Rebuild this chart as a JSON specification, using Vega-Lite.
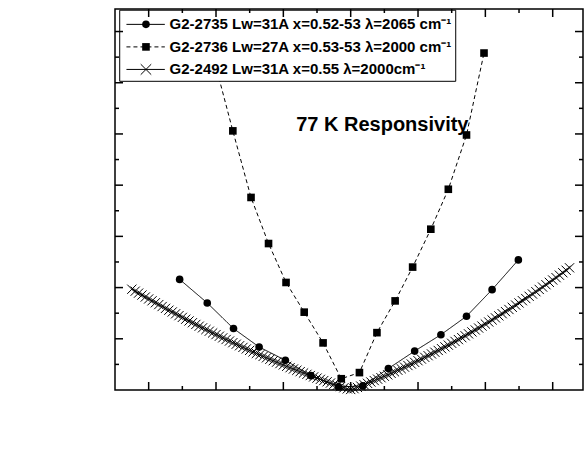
{
  "$schema": "https://vega.github.io/schema/vega-lite/v6.json",
  "width": 468,
  "height": 381,
  "autosize": "none",
  "padding": {"left": 115, "top": 9, "right": 4, "bottom": 69},
  "background": "white",
  "config": {"view": {"stroke": "black", "strokeWidth": 1.5}, "font": "Liberation Sans"},
  "datasets": {
    "pts": [
      {"s": "A", "V": -25.4, "R": 0.0108}, {"s": "A", "V": -21.3, "R": 0.0085}, {"s": "A", "V": -17.4, "R": 0.0060},
      {"s": "A", "V": -13.6, "R": 0.0042}, {"s": "A", "V": -9.7, "R": 0.0029}, {"s": "A", "V": -5.9, "R": 0.0014},
      {"s": "A", "V": -1.8, "R": 0.0003}, {"s": "A", "V": 1.8, "R": 0.0004}, {"s": "A", "V": 5.6, "R": 0.0021},
      {"s": "A", "V": 9.5, "R": 0.0038}, {"s": "A", "V": 13.4, "R": 0.0054}, {"s": "A", "V": 17.2, "R": 0.0072},
      {"s": "A", "V": 21.0, "R": 0.0098}, {"s": "A", "V": 24.9, "R": 0.0127},
      {"s": "B", "V": -20.1, "R": 0.0318}, {"s": "B", "V": -17.5, "R": 0.0253}, {"s": "B", "V": -14.8, "R": 0.0188},
      {"s": "B", "V": -12.2, "R": 0.0143}, {"s": "B", "V": -9.6, "R": 0.0105}, {"s": "B", "V": -6.9, "R": 0.0076},
      {"s": "B", "V": -4.1, "R": 0.0046}, {"s": "B", "V": -1.4, "R": 0.0011}, {"s": "B", "V": 1.3, "R": 0.0017},
      {"s": "B", "V": 3.9, "R": 0.0056}, {"s": "B", "V": 6.6, "R": 0.0087}, {"s": "B", "V": 9.2, "R": 0.0120},
      {"s": "B", "V": 11.9, "R": 0.0157}, {"s": "B", "V": 14.5, "R": 0.0196}, {"s": "B", "V": 17.2, "R": 0.0249},
      {"s": "B", "V": 19.8, "R": 0.0329},
      {"s": "C", "V": -32.5, "R": 0.00984}, {"s": "C", "V": -32, "R": 0.00965}, {"s": "C", "V": -31.5, "R": 0.00946},
      {"s": "C", "V": -31, "R": 0.00927}, {"s": "C", "V": -30.5, "R": 0.00908}, {"s": "C", "V": -30, "R": 0.00889},
      {"s": "C", "V": -29.5, "R": 0.00871}, {"s": "C", "V": -29, "R": 0.00852}, {"s": "C", "V": -28.5, "R": 0.00834},
      {"s": "C", "V": -28, "R": 0.00815}, {"s": "C", "V": -27.5, "R": 0.00797}, {"s": "C", "V": -27, "R": 0.00779},
      {"s": "C", "V": -26.5, "R": 0.00762}, {"s": "C", "V": -26, "R": 0.00744}, {"s": "C", "V": -25.5, "R": 0.00726},
      {"s": "C", "V": -25, "R": 0.00709}, {"s": "C", "V": -24.5, "R": 0.00691}, {"s": "C", "V": -24, "R": 0.00674},
      {"s": "C", "V": -23.5, "R": 0.00657}, {"s": "C", "V": -23, "R": 0.00640}, {"s": "C", "V": -22.5, "R": 0.00623},
      {"s": "C", "V": -22, "R": 0.00607}, {"s": "C", "V": -21.5, "R": 0.00590}, {"s": "C", "V": -21, "R": 0.00574},
      {"s": "C", "V": -20.5, "R": 0.00557}, {"s": "C", "V": -20, "R": 0.00541}, {"s": "C", "V": -19.5, "R": 0.00525},
      {"s": "C", "V": -19, "R": 0.00509}, {"s": "C", "V": -18.5, "R": 0.00493}, {"s": "C", "V": -18, "R": 0.00478},
      {"s": "C", "V": -17.5, "R": 0.00462}, {"s": "C", "V": -17, "R": 0.00447}, {"s": "C", "V": -16.5, "R": 0.00432},
      {"s": "C", "V": -16, "R": 0.00416}, {"s": "C", "V": -15.5, "R": 0.00401}, {"s": "C", "V": -15, "R": 0.00387},
      {"s": "C", "V": -14.5, "R": 0.00372}, {"s": "C", "V": -14, "R": 0.00357}, {"s": "C", "V": -13.5, "R": 0.00343},
      {"s": "C", "V": -13, "R": 0.00328}, {"s": "C", "V": -12.5, "R": 0.00314}, {"s": "C", "V": -12, "R": 0.00300},
      {"s": "C", "V": -11.5, "R": 0.00286}, {"s": "C", "V": -11, "R": 0.00272}, {"s": "C", "V": -10.5, "R": 0.00258},
      {"s": "C", "V": -10, "R": 0.00245}, {"s": "C", "V": -9.5, "R": 0.00231}, {"s": "C", "V": -9, "R": 0.00218},
      {"s": "C", "V": -8.5, "R": 0.00205}, {"s": "C", "V": -8, "R": 0.00192}, {"s": "C", "V": -7.5, "R": 0.00179},
      {"s": "C", "V": -7, "R": 0.00166}, {"s": "C", "V": -6.5, "R": 0.00153}, {"s": "C", "V": -6, "R": 0.00141},
      {"s": "C", "V": -5.5, "R": 0.00128}, {"s": "C", "V": -5, "R": 0.00116}, {"s": "C", "V": -4.5, "R": 0.00104},
      {"s": "C", "V": -4, "R": 0.00092}, {"s": "C", "V": -3.5, "R": 0.00080}, {"s": "C", "V": -3, "R": 0.00068},
      {"s": "C", "V": -2.5, "R": 0.00056}, {"s": "C", "V": -2, "R": 0.00045}, {"s": "C", "V": -1.5, "R": 0.00033},
      {"s": "C", "V": -1, "R": 0.00022}, {"s": "C", "V": -0.5, "R": 0.00011}, {"s": "C", "V": 0, "R": 0.00005},
      {"s": "C", "V": 0.5, "R": 0.00013}, {"s": "C", "V": 1, "R": 0.00025}, {"s": "C", "V": 1.5, "R": 0.00038},
      {"s": "C", "V": 2, "R": 0.00051}, {"s": "C", "V": 2.5, "R": 0.00065}, {"s": "C", "V": 3, "R": 0.00078},
      {"s": "C", "V": 3.5, "R": 0.00092}, {"s": "C", "V": 4, "R": 0.00106}, {"s": "C", "V": 4.5, "R": 0.00120},
      {"s": "C", "V": 5, "R": 0.00134}, {"s": "C", "V": 5.5, "R": 0.00148}, {"s": "C", "V": 6, "R": 0.00163},
      {"s": "C", "V": 6.5, "R": 0.00178}, {"s": "C", "V": 7, "R": 0.00193}, {"s": "C", "V": 7.5, "R": 0.00208},
      {"s": "C", "V": 8, "R": 0.00223}, {"s": "C", "V": 8.5, "R": 0.00239}, {"s": "C", "V": 9, "R": 0.00254},
      {"s": "C", "V": 9.5, "R": 0.00270}, {"s": "C", "V": 10, "R": 0.00286}, {"s": "C", "V": 10.5, "R": 0.00302},
      {"s": "C", "V": 11, "R": 0.00319}, {"s": "C", "V": 11.5, "R": 0.00335}, {"s": "C", "V": 12, "R": 0.00352},
      {"s": "C", "V": 12.5, "R": 0.00369}, {"s": "C", "V": 13, "R": 0.00386}, {"s": "C", "V": 13.5, "R": 0.00403},
      {"s": "C", "V": 14, "R": 0.00421}, {"s": "C", "V": 14.5, "R": 0.00438}, {"s": "C", "V": 15, "R": 0.00456},
      {"s": "C", "V": 15.5, "R": 0.00474}, {"s": "C", "V": 16, "R": 0.00492}, {"s": "C", "V": 16.5, "R": 0.00511},
      {"s": "C", "V": 17, "R": 0.00529}, {"s": "C", "V": 17.5, "R": 0.00548}, {"s": "C", "V": 18, "R": 0.00567},
      {"s": "C", "V": 18.5, "R": 0.00586}, {"s": "C", "V": 19, "R": 0.00605}, {"s": "C", "V": 19.5, "R": 0.00624},
      {"s": "C", "V": 20, "R": 0.00644}, {"s": "C", "V": 20.5, "R": 0.00664}, {"s": "C", "V": 21, "R": 0.00684},
      {"s": "C", "V": 21.5, "R": 0.00704}, {"s": "C", "V": 22, "R": 0.00724}, {"s": "C", "V": 22.5, "R": 0.00745},
      {"s": "C", "V": 23, "R": 0.00765}, {"s": "C", "V": 23.5, "R": 0.00786}, {"s": "C", "V": 24, "R": 0.00807},
      {"s": "C", "V": 24.5, "R": 0.00829}, {"s": "C", "V": 25, "R": 0.00850}, {"s": "C", "V": 25.5, "R": 0.00872},
      {"s": "C", "V": 26, "R": 0.00893}, {"s": "C", "V": 26.5, "R": 0.00915}, {"s": "C", "V": 27, "R": 0.00937},
      {"s": "C", "V": 27.5, "R": 0.00960}, {"s": "C", "V": 28, "R": 0.00982}, {"s": "C", "V": 28.5, "R": 0.01005},
      {"s": "C", "V": 29, "R": 0.01028}, {"s": "C", "V": 29.5, "R": 0.01051}, {"s": "C", "V": 30, "R": 0.01074},
      {"s": "C", "V": 30.5, "R": 0.01097}, {"s": "C", "V": 31, "R": 0.01121}, {"s": "C", "V": 31.5, "R": 0.01145},
      {"s": "C", "V": 32, "R": 0.01169}, {"s": "C", "V": 32.5, "R": 0.01193}
    ],
    "note": [{"V": 4.7, "R": 0.0259, "t": "77 K Responsivity"}],
    "one": [{"k": 1}],
    "xt": [
      {"v": -30, "m": 1}, {"v": -25, "m": 0}, {"v": -20, "m": 1}, {"v": -15, "m": 0}, {"v": -10, "m": 1},
      {"v": -5, "m": 0}, {"v": 0, "m": 1}, {"v": 5, "m": 0}, {"v": 10, "m": 1}, {"v": 15, "m": 0},
      {"v": 20, "m": 1}, {"v": 25, "m": 0}, {"v": 30, "m": 1}
    ],
    "yt": [
      {"v": 0.0025, "m": 0}, {"v": 0.005, "m": 1}, {"v": 0.0075, "m": 0}, {"v": 0.01, "m": 1}, {"v": 0.0125, "m": 0},
      {"v": 0.015, "m": 1}, {"v": 0.0175, "m": 0}, {"v": 0.02, "m": 1}, {"v": 0.0225, "m": 0}, {"v": 0.025, "m": 1},
      {"v": 0.0275, "m": 0}, {"v": 0.03, "m": 1}, {"v": 0.0325, "m": 0}, {"v": 0.035, "m": 1}
    ]
  },
  "layer": [
    {
      "data": {"name": "pts"},
      "mark": {"type": "line", "color": "black", "strokeWidth": 1},
      "encoding": {
        "x": {
          "field": "V", "type": "quantitative",
          "scale": {"domain": [-35, 34.5], "nice": false, "zero": false},
          "axis": {
            "orient": "bottom", "values": [-30, -20, -10, 0, 10, 20, 30],
            "ticks": false, "tickSize": 0,
            "labelExpr": "toString(datum.value)",
            "labelFont": "Liberation Sans", "labelFontSize": 19, "labelFontWeight": "bold", "labelColor": "black",
            "domainColor": "black", "domainWidth": 1.5,
            "labelPadding": 14, "labelOverlap": false, "labelFlush": false, "grid": false,
            "title": "Voltage (V)", "titleFont": "Liberation Sans", "titleFontSize": 22, "titleFontWeight": "bold", "titleColor": "black", "titlePadding": 4
          }
        },
        "y": {
          "field": "R", "type": "quantitative",
          "scale": {"domain": [0, 0.0372], "nice": false, "zero": false},
          "axis": {
            "orient": "left", "values": [0, 0.005, 0.01, 0.015, 0.02, 0.025, 0.03, 0.035],
            "ticks": false, "tickSize": 0,
            "format": ".3f",
            "labelFont": "Liberation Sans", "labelFontSize": 19, "labelFontWeight": "bold", "labelColor": "black",
            "domainColor": "black", "domainWidth": 1.5,
            "labelPadding": 15, "labelOverlap": false, "labelFlush": false, "grid": false,
            "title": "Responsivity (A/W)", "titleFont": "Liberation Sans", "titleFontSize": 22, "titleFontWeight": "bold", "titleColor": "black", "titlePadding": 14
          }
        },
        "detail": {"field": "s", "type": "nominal"},
        "strokeDash": {"field": "s", "type": "nominal", "scale": {"domain": ["A", "B", "C"], "range": [[1, 0], [4, 3], [1, 0]]}, "legend": null}
      }
    },
    {
      "data": {"name": "pts"},
      "transform": [{"filter": "datum.s == 'C'"}],
      "mark": {"type": "point", "shape": "M-1,-1L1,1M-1,1L1,-1", "filled": false, "stroke": "black", "strokeWidth": 1, "size": 85, "opacity": 1},
      "encoding": {
        "x": {"field": "V", "type": "quantitative", "scale": {"domain": [-35, 34.5], "nice": false, "zero": false}, "axis": null},
        "y": {"field": "R", "type": "quantitative", "scale": {"domain": [0, 0.0372], "nice": false, "zero": false}, "axis": null}
      }
    },
    {
      "data": {"name": "pts"},
      "transform": [{"filter": "datum.s != 'C'"}],
      "mark": {"type": "point", "filled": true, "color": "black", "size": 58, "opacity": 1},
      "encoding": {
        "x": {"field": "V", "type": "quantitative", "scale": {"domain": [-35, 34.5], "nice": false, "zero": false}, "axis": null},
        "y": {"field": "R", "type": "quantitative", "scale": {"domain": [0, 0.0372], "nice": false, "zero": false}, "axis": null},
        "shape": {"field": "s", "type": "nominal", "scale": {"domain": ["A", "B"], "range": ["circle", "square"]}, "legend": null}
      }
    },
    {
      "data": {"name": "note"},
      "mark": {"type": "text", "font": "Liberation Sans", "fontSize": 20, "fontWeight": "bold", "color": "black", "align": "center", "baseline": "middle"},
      "encoding": {
        "x": {"field": "V", "type": "quantitative", "scale": {"domain": [-35, 34.5], "nice": false, "zero": false}, "axis": null},
        "y": {"field": "R", "type": "quantitative", "scale": {"domain": [0, 0.0372], "nice": false, "zero": false}, "axis": null},
        "text": {"field": "t"}
      }
    },
    {
      "data": {"name": "one"},
      "mark": {"type": "rect", "fill": "white", "stroke": "black", "strokeWidth": 1},
      "encoding": {
        "x": {"datum": -34.3, "type": "quantitative", "scale": {"domain": [-35, 34.5], "nice": false, "zero": false}, "axis": null},
        "x2": {"datum": 15.6},
        "y": {"datum": 0.03014, "type": "quantitative", "scale": {"domain": [0, 0.0372], "nice": false, "zero": false}, "axis": null},
        "y2": {"datum": 0.03708}
      }
    },
    {
      "data": {"name": "one"},
      "mark": {"type": "rule", "color": "black", "strokeWidth": 1},
      "encoding": {
        "x": {"datum": -33.3, "type": "quantitative", "scale": {"domain": [-35, 34.5], "nice": false, "zero": false}, "axis": null},
        "x2": {"datum": -27.6},
        "y": {"datum": 0.0357, "type": "quantitative", "scale": {"domain": [0, 0.0372], "nice": false, "zero": false}, "axis": null}
      }
    },
    {
      "data": {"name": "one"},
      "mark": {"type": "rule", "color": "black", "strokeWidth": 1, "strokeDash": [4, 3]},
      "encoding": {
        "x": {"datum": -33.3, "type": "quantitative", "scale": {"domain": [-35, 34.5], "nice": false, "zero": false}, "axis": null},
        "x2": {"datum": -27.6},
        "y": {"datum": 0.0335, "type": "quantitative", "scale": {"domain": [0, 0.0372], "nice": false, "zero": false}, "axis": null}
      }
    },
    {
      "data": {"name": "one"},
      "mark": {"type": "rule", "color": "black", "strokeWidth": 1},
      "encoding": {
        "x": {"datum": -33.3, "type": "quantitative", "scale": {"domain": [-35, 34.5], "nice": false, "zero": false}, "axis": null},
        "x2": {"datum": -27.6},
        "y": {"datum": 0.0313, "type": "quantitative", "scale": {"domain": [0, 0.0372], "nice": false, "zero": false}, "axis": null}
      }
    },
    {
      "data": {"name": "one"},
      "mark": {"type": "point", "shape": "circle", "filled": true, "color": "black", "size": 58, "opacity": 1},
      "encoding": {
        "x": {"datum": -30.4, "type": "quantitative", "scale": {"domain": [-35, 34.5], "nice": false, "zero": false}, "axis": null},
        "y": {"datum": 0.0357, "type": "quantitative", "scale": {"domain": [0, 0.0372], "nice": false, "zero": false}, "axis": null}
      }
    },
    {
      "data": {"name": "one"},
      "mark": {"type": "point", "shape": "square", "filled": true, "color": "black", "size": 58, "opacity": 1},
      "encoding": {
        "x": {"datum": -30.4, "type": "quantitative", "scale": {"domain": [-35, 34.5], "nice": false, "zero": false}, "axis": null},
        "y": {"datum": 0.0335, "type": "quantitative", "scale": {"domain": [0, 0.0372], "nice": false, "zero": false}, "axis": null}
      }
    },
    {
      "data": {"name": "one"},
      "mark": {"type": "point", "shape": "M-1,-1L1,1M-1,1L1,-1", "filled": false, "stroke": "black", "strokeWidth": 1, "size": 110, "opacity": 1},
      "encoding": {
        "x": {"datum": -30.4, "type": "quantitative", "scale": {"domain": [-35, 34.5], "nice": false, "zero": false}, "axis": null},
        "y": {"datum": 0.0313, "type": "quantitative", "scale": {"domain": [0, 0.0372], "nice": false, "zero": false}, "axis": null}
      }
    },
    {
      "data": {"name": "one"},
      "mark": {"type": "text", "font": "Liberation Sans", "fontSize": 15, "fontWeight": "bold", "color": "black", "align": "left", "baseline": "middle"},
      "encoding": {
        "x": {"datum": -26.9, "type": "quantitative", "scale": {"domain": [-35, 34.5], "nice": false, "zero": false}, "axis": null},
        "y": {"datum": 0.0357, "type": "quantitative", "scale": {"domain": [0, 0.0372], "nice": false, "zero": false}, "axis": null},
        "text": {"value": "G2-2735 Lw=31A x=0.52-53 λ=2065 cm⁻¹"}
      }
    },
    {
      "data": {"name": "one"},
      "mark": {"type": "text", "font": "Liberation Sans", "fontSize": 15, "fontWeight": "bold", "color": "black", "align": "left", "baseline": "middle"},
      "encoding": {
        "x": {"datum": -26.9, "type": "quantitative", "scale": {"domain": [-35, 34.5], "nice": false, "zero": false}, "axis": null},
        "y": {"datum": 0.0335, "type": "quantitative", "scale": {"domain": [0, 0.0372], "nice": false, "zero": false}, "axis": null},
        "text": {"value": "G2-2736 Lw=27A x=0.53-53 λ=2000 cm⁻¹"}
      }
    },
    {
      "data": {"name": "one"},
      "mark": {"type": "text", "font": "Liberation Sans", "fontSize": 15, "fontWeight": "bold", "color": "black", "align": "left", "baseline": "middle"},
      "encoding": {
        "x": {"datum": -26.9, "type": "quantitative", "scale": {"domain": [-35, 34.5], "nice": false, "zero": false}, "axis": null},
        "y": {"datum": 0.0313, "type": "quantitative", "scale": {"domain": [0, 0.0372], "nice": false, "zero": false}, "axis": null},
        "text": {"value": "G2-2492 Lw=31A x=0.55 λ=2000cm⁻¹"}
      }
    },
    {
      "data": {"name": "xt"},
      "transform": [{"filter": "datum.m == 1"}],
      "mark": {"type": "rule", "color": "black", "strokeWidth": 1.5, "y2Offset": -8},
      "encoding": {
        "x": {"field": "v", "type": "quantitative", "scale": {"domain": [-35, 34.5], "nice": false, "zero": false}, "axis": null},
        "y": {"datum": 0, "type": "quantitative", "scale": {"domain": [0, 0.0372], "nice": false, "zero": false}, "axis": null},
        "y2": {"datum": 0}
      }
    },
    {
      "data": {"name": "xt"},
      "transform": [{"filter": "datum.m == 0"}],
      "mark": {"type": "rule", "color": "black", "strokeWidth": 1.5, "y2Offset": -4},
      "encoding": {
        "x": {"field": "v", "type": "quantitative", "scale": {"domain": [-35, 34.5], "nice": false, "zero": false}, "axis": null},
        "y": {"datum": 0, "type": "quantitative", "scale": {"domain": [0, 0.0372], "nice": false, "zero": false}, "axis": null},
        "y2": {"datum": 0}
      }
    },
    {
      "data": {"name": "xt"},
      "transform": [{"filter": "datum.m == 1"}],
      "mark": {"type": "rule", "color": "black", "strokeWidth": 1.5, "y2Offset": 8},
      "encoding": {
        "x": {"field": "v", "type": "quantitative", "scale": {"domain": [-35, 34.5], "nice": false, "zero": false}, "axis": null},
        "y": {"datum": 0.0372, "type": "quantitative", "scale": {"domain": [0, 0.0372], "nice": false, "zero": false}, "axis": null},
        "y2": {"datum": 0.0372}
      }
    },
    {
      "data": {"name": "xt"},
      "transform": [{"filter": "datum.m == 0"}],
      "mark": {"type": "rule", "color": "black", "strokeWidth": 1.5, "y2Offset": 4},
      "encoding": {
        "x": {"field": "v", "type": "quantitative", "scale": {"domain": [-35, 34.5], "nice": false, "zero": false}, "axis": null},
        "y": {"datum": 0.0372, "type": "quantitative", "scale": {"domain": [0, 0.0372], "nice": false, "zero": false}, "axis": null},
        "y2": {"datum": 0.0372}
      }
    },
    {
      "data": {"name": "yt"},
      "transform": [{"filter": "datum.m == 1"}],
      "mark": {"type": "rule", "color": "black", "strokeWidth": 1.5, "x2Offset": 8},
      "encoding": {
        "y": {"field": "v", "type": "quantitative", "scale": {"domain": [0, 0.0372], "nice": false, "zero": false}, "axis": null},
        "x": {"datum": -35, "type": "quantitative", "scale": {"domain": [-35, 34.5], "nice": false, "zero": false}, "axis": null},
        "x2": {"datum": -35}
      }
    },
    {
      "data": {"name": "yt"},
      "transform": [{"filter": "datum.m == 0"}],
      "mark": {"type": "rule", "color": "black", "strokeWidth": 1.5, "x2Offset": 4},
      "encoding": {
        "y": {"field": "v", "type": "quantitative", "scale": {"domain": [0, 0.0372], "nice": false, "zero": false}, "axis": null},
        "x": {"datum": -35, "type": "quantitative", "scale": {"domain": [-35, 34.5], "nice": false, "zero": false}, "axis": null},
        "x2": {"datum": -35}
      }
    },
    {
      "data": {"name": "yt"},
      "transform": [{"filter": "datum.m == 1"}],
      "mark": {"type": "rule", "color": "black", "strokeWidth": 1.5, "x2Offset": -8},
      "encoding": {
        "y": {"field": "v", "type": "quantitative", "scale": {"domain": [0, 0.0372], "nice": false, "zero": false}, "axis": null},
        "x": {"datum": 34.5, "type": "quantitative", "scale": {"domain": [-35, 34.5], "nice": false, "zero": false}, "axis": null},
        "x2": {"datum": 34.5}
      }
    },
    {
      "data": {"name": "yt"},
      "transform": [{"filter": "datum.m == 0"}],
      "mark": {"type": "rule", "color": "black", "strokeWidth": 1.5, "x2Offset": -4},
      "encoding": {
        "y": {"field": "v", "type": "quantitative", "scale": {"domain": [0, 0.0372], "nice": false, "zero": false}, "axis": null},
        "x": {"datum": 34.5, "type": "quantitative", "scale": {"domain": [-35, 34.5], "nice": false, "zero": false}, "axis": null},
        "x2": {"datum": 34.5}
      }
    }
  ]
}
